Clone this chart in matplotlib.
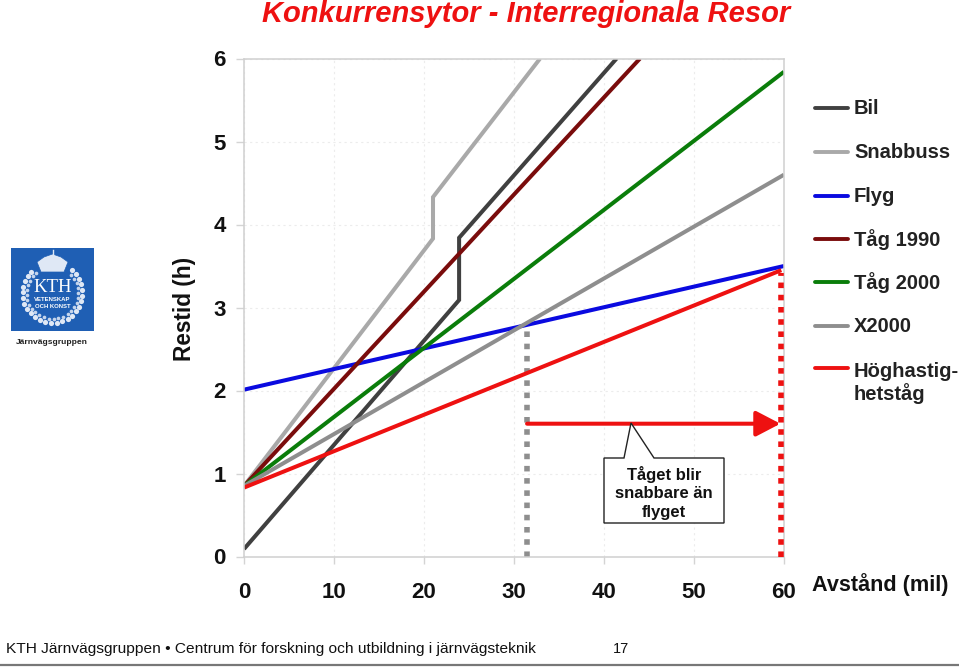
import matplotlib
matplotlib.use("Agg")
import matplotlib.pyplot as plt
from matplotlib.patches import Rectangle, Polygon, FancyArrowPatch
import numpy as np

plt.rcParams['font.family'] = ['Liberation Sans', 'DejaVu Sans']

x_ticks = [0, 10, 20, 30, 40, 50, 60]
y_ticks = [0, 1, 2, 3, 4, 5, 6]

bil_x = [0, 23.9, 23.9, 41.4]
bil_y = [0.09, 3.09, 3.84, 6.0]
snabbuss_x = [0, 21, 21, 32.9]
snabbuss_y = [0.85, 3.83, 4.33, 6.0]
flyg_x = [0, 60]
flyg_y = [2.01, 3.5]
tag1990_x = [0, 44]
tag1990_y = [0.85, 6.0]
tag2000_x = [0, 60]
tag2000_y = [0.85, 5.84]
x2000_x = [0, 60]
x2000_y = [0.85, 4.6]
hog_x = [0, 59.7]
hog_y = [0.83, 3.45]

series = [
    ("Bil", bil_x, bil_y, "#404040"),
    ("Snabbuss", snabbuss_x, snabbuss_y, "#a9a9a9"),
    ("Flyg", flyg_x, flyg_y, "#0a0ae0"),
    ("Tåg 1990", tag1990_x, tag1990_y, "#7a0c0c"),
    ("Tåg 2000", tag2000_x, tag2000_y, "#0a7d0a"),
    ("X2000", x2000_x, x2000_y, "#8e8e8e"),
    ("Höghastig-\nhetståg", hog_x, hog_y, "#ee1111"),
]

W, H = 959, 667
fig = plt.figure(figsize=(W/100, H/100), dpi=100)
L, R, T, B = 244, 784, 58.5, 556.5
ax = fig.add_axes([L/W, 1-B/H, (R-L)/W, (B-T)/H])
ax.set_xlim(0, 60)
ax.set_ylim(0, 6)
ax.set_xticks(x_ticks)
ax.set_yticks(y_ticks)
ax.tick_params(axis='y', length=6, color="#d4d4d4", width=1, pad=7, labelsize=16, labelcolor="#111111")
ax.tick_params(axis='x', length=5, color="#d4d4d4", width=1, pad=13, labelsize=16, labelcolor="#111111")
for lab in ax.get_xticklabels() + ax.get_yticklabels():
    lab.set_fontweight('bold')
ax.grid(True, color="#ececec", lw=0.8, ls=(0, (2, 3)))
ax.set_axisbelow(True)
for s in ax.spines.values():
    s.set_color("#d0d0d0")
    s.set_linewidth(1.1)

for name, xs, ys, c in series:
    ax.plot(xs, ys, color=c, lw=2.9, solid_joinstyle='miter', solid_capstyle='butt')

# crossover markers
ax.plot([31.45, 31.45], [0, 2.8], color="#8e8e8e", lw=4, ls=(0, (1, 1.2)), zorder=1.9, clip_on=False)
ax.plot([59.65, 59.65], [0, 3.42], color="#ee1111", lw=4, ls=(0, (1, 1.2)), zorder=3, clip_on=False)
ax.add_patch(FancyArrowPatch((31.45, 1.6), (59.6, 1.6), arrowstyle='-|>,head_length=1.15,head_width=0.6',
                             mutation_scale=13, color="#ee1111", lw=2.9, shrinkA=0, shrinkB=0, zorder=4))

# overlay in pixel coordinates
ov = fig.add_axes([0, 0, 1, 1], facecolor='none')
ov.set_xlim(0, W); ov.set_ylim(H, 0); ov.axis('off')

# callout
ov.add_patch(Polygon([(604, 458), (624, 458), (631, 423), (654, 458), (724, 458), (724, 523), (604, 523)],
                     closed=True, fc='white', ec='#222222', lw=1, zorder=5))
ov.text(664, 493, "Tåget blir\nsnabbare än\nflyget", ha='center', va='center', fontsize=12,
        fontweight='bold', linespacing=1.33, zorder=6, color="#111111")

# legend
leg_y = [108, 152, 196, 239, 282, 326, 368]
for (name, xs, ys, c), y in zip(series, leg_y):
    ov.plot([815, 848], [y, y], color=c, lw=2.8, solid_capstyle='round')
    ty = y + 1 if "\n" not in name else y + 15
    ov.text(854, ty, name, ha='left', va='center', fontsize=14.5, fontweight='bold',
            color="#222222", linespacing=1.12)

ov.text(526, 14, "Konkurrensytor - Interregionala Resor", ha='center', va='center', fontsize=21,
        color="#ee1111", fontweight='bold', fontstyle='italic')
ov.text(184, 309, "Restid (h)", rotation=90, ha='center', va='center', fontsize=16.3, fontweight='bold', color="#111111")
ov.text(880, 585, "Avstånd (mil)", ha='center', va='center', fontsize=15.6, fontweight='bold', color="#111111")

# logo
ov.add_patch(Rectangle((11, 248), 83, 83, fc="#1f5fb4", ec='none'))
ring_t = np.radians(np.arange(-50, 231, 11))
ov.scatter(52.5 + 30*np.cos(ring_t), 293 + 30*np.sin(ring_t), s=14, c='#dfe8f5', linewidths=0)
ov.scatter(52.5 + 26*np.cos(ring_t + 0.1), 293 + 26*np.sin(ring_t + 0.1), s=7, c='#c5d5ec', linewidths=0)
ov.add_patch(Polygon([(41, 272), (37, 262), (44, 257), (52.5, 254), (61, 257), (68, 262), (64, 272)],
                     closed=True, fc='#dfe8f5', ec='#1f5fb4', lw=0.5))
ov.plot([52.5, 52.5], [250, 256], color='#dfe8f5', lw=1)
ov.text(52.5, 288, "KTH", ha='center', va='center', fontsize=13.5, color='white', family='Liberation Serif')
ov.text(52.5, 299.5, "VETENSKAP", ha='center', va='center', fontsize=4.3, color='white', fontweight='bold')
ov.text(52.5, 306.5, "OCH KONST", ha='center', va='center', fontsize=4.3, color='white', fontweight='bold')
ov.text(52, 343, "Järnvägsgruppen", ha='center', va='center', fontsize=6.1, fontweight='bold', color='#222222')

# footer
ov.plot([0, W], [664.5, 664.5], color='#777777', lw=1.6)
ov.text(6, 649, "KTH Järnvägsgruppen • Centrum för forskning och utbildning i järnvägsteknik",
        ha='left', va='center', fontsize=11.15, color='#111111')
ov.text(621, 649, "17", ha='center', va='center', fontsize=10.5, color='#111111')

fig.savefig("out.png", dpi=100, facecolor='white')
